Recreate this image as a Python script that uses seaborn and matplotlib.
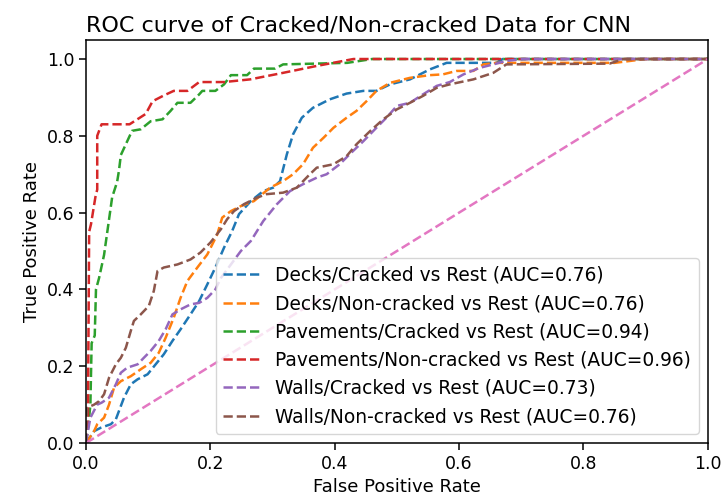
import matplotlib
matplotlib.use("Agg")
import matplotlib.pyplot as plt
import seaborn as sns

# ROC curve points (false positive rate, true positive rate)
decks_cracked_fpr = [0.0, 0.013, 0.024, 0.04, 0.048, 0.061, 0.072, 0.083, 0.099, 0.112, 0.125, 0.139,
                     0.152, 0.168, 0.182, 0.195, 0.208, 0.222, 0.235, 0.246, 0.265, 0.285, 0.301, 0.312,
                     0.323, 0.333, 0.347, 0.365, 0.392, 0.419, 0.446, 0.467, 0.489, 0.521, 0.553, 0.58,
                     0.66, 0.67, 1.0]
decks_cracked_tpr = [0.0, 0.031, 0.04, 0.049, 0.062, 0.118, 0.153, 0.166, 0.179, 0.205, 0.231, 0.266,
                     0.296, 0.335, 0.37, 0.413, 0.457, 0.509, 0.552, 0.596, 0.63, 0.656, 0.665, 0.682,
                     0.752, 0.804, 0.847, 0.873, 0.895, 0.91, 0.917, 0.917, 0.934, 0.947, 0.973, 0.99,
                     0.99, 1.0, 1.0]

decks_noncracked_fpr = [0.0, 0.013, 0.018, 0.029, 0.037, 0.045, 0.056, 0.072, 0.088, 0.104, 0.117,
                        0.128, 0.141, 0.152, 0.163, 0.179, 0.195, 0.211, 0.219, 0.233, 0.249, 0.27,
                        0.296, 0.317, 0.333, 0.349, 0.365, 0.382, 0.398, 0.419, 0.435, 0.451, 0.467,
                        0.489, 0.521, 0.553, 0.574, 0.596, 0.623, 0.639, 0.66, 0.85, 0.9, 1.0]
decks_noncracked_tpr = [0.0, 0.031, 0.049, 0.066, 0.10, 0.144, 0.161, 0.174, 0.192, 0.209, 0.235,
                        0.274, 0.326, 0.378, 0.422, 0.457, 0.491, 0.543, 0.587, 0.604, 0.617, 0.63,
                        0.665, 0.682, 0.70, 0.726, 0.769, 0.795, 0.821, 0.847, 0.865, 0.89, 0.917,
                        0.938, 0.951, 0.958, 0.96, 0.969, 0.969, 0.986, 0.99, 0.99, 1.0, 1.0]

pave_cracked_fpr = [0.0, 0.004, 0.007, 0.009, 0.014, 0.016, 0.021, 0.029, 0.042, 0.05, 0.053, 0.056,
                    0.064, 0.074, 0.088, 0.104, 0.123, 0.136, 0.147, 0.168, 0.182, 0.187, 0.208, 0.222,
                    0.233, 0.259, 0.27, 0.304, 0.317, 0.42, 0.46, 1.0]
pave_cracked_tpr = [0.0, 0.05, 0.10, 0.26, 0.28, 0.40, 0.43, 0.49, 0.64, 0.68, 0.71, 0.75,
                    0.778, 0.813, 0.817, 0.838, 0.843, 0.865, 0.886, 0.886, 0.908, 0.917, 0.917, 0.934,
                    0.958, 0.958, 0.975, 0.975, 0.986, 0.99, 1.0, 1.0]

pave_noncracked_fpr = [0.0, 0.003, 0.005, 0.008, 0.015, 0.018, 0.018, 0.025, 0.07, 0.096, 0.107,
                       0.125, 0.141, 0.163, 0.182, 0.222, 0.264, 0.317, 0.371, 0.43, 1.0]
pave_noncracked_tpr = [0.0, 0.05, 0.55, 0.57, 0.64, 0.66, 0.80, 0.83, 0.83, 0.857, 0.89,
                       0.905, 0.917, 0.917, 0.94, 0.94, 0.947, 0.964, 0.982, 1.0, 1.0]

walls_cracked_fpr = [0.0, 0.003, 0.007, 0.018, 0.025, 0.037, 0.048, 0.056, 0.066, 0.083, 0.093, 0.104,
                     0.117, 0.128, 0.139, 0.152, 0.168, 0.182, 0.195, 0.208, 0.217, 0.249, 0.265,
                     0.285, 0.307, 0.328, 0.349, 0.371, 0.387, 0.408, 0.424, 0.446, 0.467, 0.483, 0.50,
                     0.521, 0.542, 0.564, 0.585, 0.607, 0.633, 0.655, 0.676, 0.703, 1.0]
walls_cracked_tpr = [0.0, 0.03, 0.066, 0.10, 0.105, 0.118, 0.153, 0.183, 0.196, 0.205, 0.222, 0.24,
                     0.266, 0.296, 0.335, 0.348, 0.361, 0.365, 0.378, 0.40, 0.43, 0.50, 0.526,
                     0.578, 0.622, 0.656, 0.674, 0.691, 0.70, 0.726, 0.752, 0.786, 0.821, 0.847, 0.878,
                     0.886, 0.908, 0.93, 0.94, 0.96, 0.977, 0.986, 0.995, 1.0, 1.0]

walls_noncracked_fpr = [0.0, 0.0, 0.002, 0.013, 0.021, 0.029, 0.037, 0.048, 0.056, 0.064, 0.072, 0.077,
                        0.088, 0.101, 0.109, 0.115, 0.125, 0.147, 0.168, 0.184, 0.20, 0.217, 0.227,
                        0.238, 0.254, 0.275, 0.29, 0.317, 0.339, 0.36, 0.371, 0.398, 0.419, 0.435,
                        0.457, 0.478, 0.50, 0.521, 0.542, 0.564, 0.585, 0.623, 0.655, 0.676, 0.842,
                        0.864, 1.0]
walls_noncracked_tpr = [0.0, 0.03, 0.092, 0.10, 0.109, 0.127, 0.17, 0.205, 0.222, 0.248, 0.292, 0.318,
                        0.335, 0.357, 0.396, 0.448, 0.457, 0.465, 0.478, 0.496, 0.522, 0.557, 0.583,
                        0.604, 0.622, 0.639, 0.648, 0.652, 0.665, 0.70, 0.717, 0.726, 0.747, 0.778,
                        0.8125, 0.843, 0.869, 0.886, 0.904, 0.925, 0.934, 0.947, 0.964, 0.986, 0.988,
                        1.0, 1.0]

labels = ["Decks/Cracked vs Rest (AUC=0.76)",
          "Decks/Non-cracked vs Rest (AUC=0.76)",
          "Pavements/Cracked vs Rest (AUC=0.94)",
          "Pavements/Non-cracked vs Rest (AUC=0.96)",
          "Walls/Cracked vs Rest (AUC=0.73)",
          "Walls/Non-cracked vs Rest (AUC=0.76)"]

curves = [(decks_cracked_fpr, decks_cracked_tpr),
          (decks_noncracked_fpr, decks_noncracked_tpr),
          (pave_cracked_fpr, pave_cracked_tpr),
          (pave_noncracked_fpr, pave_noncracked_tpr),
          (walls_cracked_fpr, walls_cracked_tpr),
          (walls_noncracked_fpr, walls_noncracked_tpr)]

chance = [0.0, 1.0]

colors = sns.color_palette("tab10")

plt.rcParams['axes.linewidth'] = 1.1
plt.rcParams['xtick.major.size'] = 5
plt.rcParams['ytick.major.size'] = 5
plt.rcParams['xtick.major.width'] = 1.1
plt.rcParams['ytick.major.width'] = 1.1

fig, ax = plt.subplots(figsize=(7.23, 5.04), dpi=100)
fig.subplots_adjust(left=0.119, right=0.979, top=0.921, bottom=0.121)

for i, (fpr, tpr) in enumerate(curves):
    sns.lineplot(x=fpr, y=tpr, ax=ax, estimator=None, sort=False, color=colors[i],
                 linestyle='--', linewidth=1.8, label=labels[i])

sns.lineplot(x=chance, y=chance, ax=ax, estimator=None, sort=False, color=colors[6],
             linestyle='--', linewidth=1.8)

ax.set_xlim(0, 1)
ax.set_ylim(0, 1.05)
ax.set_xlabel('False Positive Rate', fontsize=13)
ax.set_ylabel('True Positive Rate', fontsize=13)
ax.set_title('ROC curve of Cracked/Non-cracked Data for CNN', fontsize=16, loc='left')
ax.tick_params(labelsize=12.5)
ax.legend(loc='lower right', fontsize=13.4)

fig.savefig('out.png', dpi=100)
